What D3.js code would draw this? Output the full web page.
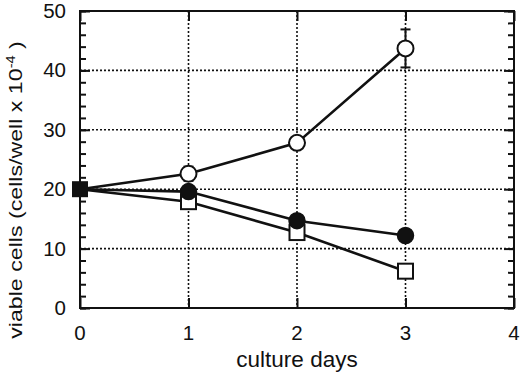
<!DOCTYPE html>
<html><head><meta charset="utf-8">
<script src="https://cdn.jsdelivr.net/npm/d3@7"></script>
<style>body{margin:0;background:#fff}text{font-family:"Liberation Sans",Arial,Helvetica,sans-serif;fill:#111}</style>
</head><body><svg id="c" width="520" height="380"></svg>
<script>
const days = [0, 1, 2, 3];
const openCircle = [20, 22.6, 27.8, 43.7];
const openCircleErr = [0, 1.2, 0, 3.2];
const filledCircle = [20, 19.6, 14.7, 12.2];
const openSquare = [20, 17.9, 12.7, 6.2];
const xTicks = [0, 1, 2, 3, 4];
const yTicks = [0, 10, 20, 30, 40, 50];
const yMinor = d3.range(0, 51, 2);

const svg = d3.select("#c");
const L = 80, R = 514, T = 11, B = 308;
const x = d3.scaleLinear().domain([0, 4]).range([L, R]);
const y = d3.scaleLinear().domain([0, 50]).range([B, T]);

// grid
const g = svg.append("g");
g.selectAll(".gx").data(xTicks.slice(1, -1)).enter().append("line")
  .attr("x1", d => x(d)).attr("x2", d => x(d)).attr("y1", T).attr("y2", B)
  .attr("stroke", "#111").attr("stroke-width", 1.6).attr("stroke-dasharray", "2,2");
g.selectAll(".gy").data(yTicks.slice(1, -1)).enter().append("line")
  .attr("x1", L).attr("x2", R).attr("y1", d => y(d)).attr("y2", d => y(d))
  .attr("stroke", "#111").attr("stroke-width", 1.6).attr("stroke-dasharray", "2,2");

// axes (inward ticks)
const axL = svg.append("g").attr("transform", `translate(${L},0)`)
  .call(d3.axisRight(y).tickValues(yMinor).tickSize(6).tickFormat(""));
const axL2 = svg.append("g").attr("transform", `translate(${L},0)`)
  .call(d3.axisRight(y).tickValues(yTicks).tickSize(10).tickFormat(""));
const axR = svg.append("g").attr("transform", `translate(${R},0)`)
  .call(d3.axisLeft(y).tickValues(yMinor).tickSize(6).tickFormat(""));
const axR2 = svg.append("g").attr("transform", `translate(${R},0)`)
  .call(d3.axisLeft(y).tickValues(yTicks).tickSize(10).tickFormat(""));
const axB = svg.append("g").attr("transform", `translate(0,${B})`)
  .call(d3.axisTop(x).tickValues(xTicks).tickSize(10).tickFormat(""));
const axT = svg.append("g").attr("transform", `translate(0,${T})`)
  .call(d3.axisBottom(x).tickValues(xTicks).tickSize(10).tickFormat(""));
[axL, axL2, axR, axR2, axB, axT].forEach(a => {
  a.selectAll("line").attr("stroke", "#111").attr("stroke-width", 2);
  a.select(".domain").remove();
});
svg.append("rect").attr("x", L).attr("y", T).attr("width", R - L).attr("height", B - T)
  .attr("fill", "none").attr("stroke", "#111").attr("stroke-width", 2);

// tick labels
svg.selectAll(".yl").data(yTicks).enter().append("text")
  .attr("x", L - 14).attr("y", d => y(d) + 7).attr("text-anchor", "end")
  .attr("font-size", 20.5).text(d => d);
svg.selectAll(".xl").data(xTicks).enter().append("text")
  .attr("x", d => x(d)).attr("y", 340).attr("text-anchor", "middle")
  .attr("font-size", 20.5).text(d => d);

svg.append("text").attr("x", x(2)).attr("y", 367).attr("text-anchor", "middle")
  .attr("font-size", 22.5).text("culture days");

const yl = svg.append("text").attr("transform", "translate(22,190) rotate(-90) scale(1.22,1)")
  .attr("text-anchor", "middle").attr("font-size", 19);
yl.append("tspan").text("viable cells (cells/well x 10");
yl.append("tspan").attr("dy", -7).attr("font-size", 12).text("-4");
yl.append("tspan").attr("dy", 7).text(" )");

// lines
const line = vals => d3.line().x((d, i) => x(days[i])).y(d => y(d))(vals);
[openCircle, filledCircle, openSquare].forEach(s => {
  svg.append("path").attr("d", line(s)).attr("fill", "none")
    .attr("stroke", "#111").attr("stroke-width", 2.6);
});

// error bars
const eb = days.map((d, i) => ({d, v: openCircle[i], e: openCircleErr[i]})).filter(o => o.e > 0);
eb.forEach(o => {
  svg.append("line").attr("x1", x(o.d)).attr("x2", x(o.d)).attr("y1", y(o.v + o.e)).attr("y2", y(o.v - o.e))
    .attr("stroke", "#111").attr("stroke-width", 2);
  [o.v + o.e, o.v - o.e].forEach(v => svg.append("line").attr("x1", x(o.d) - 5).attr("x2", x(o.d) + 5)
    .attr("y1", y(v)).attr("y2", y(v)).attr("stroke", "#111").attr("stroke-width", 2));
});

// markers
svg.selectAll(".sq").data(openSquare.slice(1)).enter().append("rect")
  .attr("x", (d, i) => x(days[i + 1]) - 7.5).attr("y", d => y(d) - 7.5)
  .attr("width", 15).attr("height", 15).attr("fill", "#fff").attr("stroke", "#111").attr("stroke-width", 2);
svg.selectAll(".fc").data(filledCircle.slice(1)).enter().append("circle")
  .attr("cx", (d, i) => x(days[i + 1])).attr("cy", d => y(d)).attr("r", 8)
  .attr("fill", "#111").attr("stroke", "#111").attr("stroke-width", 1.5);
svg.selectAll(".oc").data(openCircle.slice(1)).enter().append("circle")
  .attr("cx", (d, i) => x(days[i + 1])).attr("cy", d => y(d)).attr("r", 8)
  .attr("fill", "#fff").attr("stroke", "#111").attr("stroke-width", 2);
// day 0 shared point: filled square
svg.append("rect").attr("x", x(days[0]) - 8).attr("y", y(openSquare[0]) - 8)
  .attr("width", 16).attr("height", 16).attr("fill", "#111");
</script></body></html>
